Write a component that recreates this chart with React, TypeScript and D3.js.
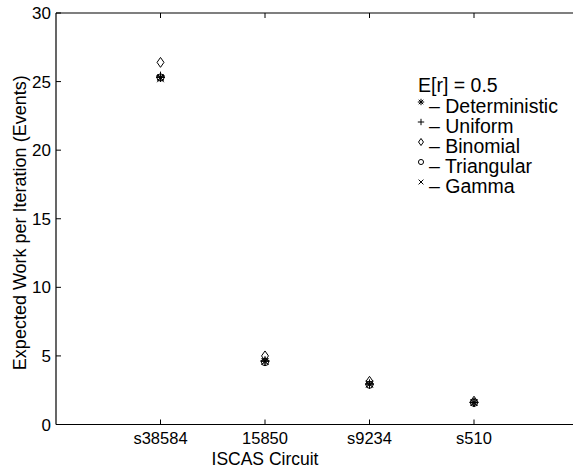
import React from "react";
import * as d3 from "d3";

// Circuits along the x axis
const circuits = ["s38584", "15850", "s9234", "s510"];

// Expected work per iteration for each distribution of r (E[r] = 0.5)
const deterministic = [25.3, 4.6, 2.95, 1.6];
const uniform = [25.4, 4.65, 2.95, 1.62];
const binomial = [26.4, 5.0, 3.15, 1.7];
const triangular = [25.3, 4.55, 2.9, 1.58];
const gamma = [25.2, 4.6, 2.95, 1.6];

const yTicks = [0, 5, 10, 15, 20, 25, 30];

const legendTitle = "E[r] = 0.5";
const seriesNames = ["Deterministic", "Uniform", "Binomial", "Triangular", "Gamma"];
const seriesValues = [deterministic, uniform, binomial, triangular, gamma];
const markerKinds = ["asterisk", "plus", "diamond", "circle", "cross"];

const W = 573;
const H = 468;
const FONT = "Arial, 'Liberation Sans', Helvetica, sans-serif";

function Marker({ kind, x, y, s }: { kind: string; x: number; y: number; s: number }) {
  const st = { stroke: "#000", strokeWidth: 1, fill: "none" } as const;
  if (kind === "asterisk") {
    const d = s * 0.7;
    return (
      <g {...st}>
        <line x1={x - s} y1={y} x2={x + s} y2={y} />
        <line x1={x} y1={y - s} x2={x} y2={y + s} />
        <line x1={x - d} y1={y - d} x2={x + d} y2={y + d} />
        <line x1={x - d} y1={y + d} x2={x + d} y2={y - d} />
      </g>
    );
  }
  if (kind === "plus") {
    return (
      <g {...st}>
        <line x1={x - s} y1={y} x2={x + s} y2={y} />
        <line x1={x} y1={y - s} x2={x} y2={y + s} />
      </g>
    );
  }
  if (kind === "cross") {
    const d = s * 0.75;
    return (
      <g {...st}>
        <line x1={x - d} y1={y - d} x2={x + d} y2={y + d} />
        <line x1={x - d} y1={y + d} x2={x + d} y2={y - d} />
      </g>
    );
  }
  if (kind === "diamond") {
    const r = s * 1.1;
    return <path d={`M${x},${y - r}L${x + r * 0.7},${y}L${x},${y + r}L${x - r * 0.7},${y}Z`} {...st} />;
  }
  return <circle cx={x} cy={y} r={s * 0.8} {...st} />;
}

export default function App() {
  const left = 56;
  const top = 13;
  const bottom = 424.5;
  const x = d3.scaleLinear().domain([0, 5]).range([left, left + 5 * 104.5]);
  const y = d3.scaleLinear().domain([0, 30]).range([bottom, top]);
  const right = x(5);

  return (
    <svg width={W} height={H} style={{ position: "absolute", left: 0, top: 0, background: "#fff" }} fontFamily={FONT}>
      <rect x={0} y={0} width={W} height={H} fill="#fff" />
      {/* axes box */}
      <line x1={left} y1={top} x2={right} y2={top} stroke="#000" strokeWidth={1.2} />
      <line x1={left} y1={bottom} x2={right} y2={bottom} stroke="#000" strokeWidth={1.2} />
      <line x1={left} y1={top} x2={left} y2={bottom} stroke="#000" strokeWidth={1.2} />

      {/* y ticks */}
      {yTicks.map((t) => (
        <g key={t}>
          <line x1={left} x2={left + 5} y1={y(t)} y2={y(t)} stroke="#000" />
          <text x={left - 5} y={y(t)} dy="0.36em" textAnchor="end" fontSize={17}>
            {t}
          </text>
        </g>
      ))}

      {/* x ticks */}
      {circuits.map((c, i) => (
        <g key={c}>
          <line x1={x(i + 1)} x2={x(i + 1)} y1={bottom} y2={bottom - 5} stroke="#000" />
          <line x1={x(i + 1)} x2={x(i + 1)} y1={top} y2={top + 5} stroke="#000" />
          <text x={x(i + 1)} y={444} textAnchor="middle" fontSize={16.5}>
            {c}
          </text>
        </g>
      ))}

      <text x={x(2)} y={465} textAnchor="middle" fontSize={17.5}>
        ISCAS Circuit
      </text>
      <text transform={`translate(26,${(top + bottom) / 2 + 4}) rotate(-90)`} textAnchor="middle" fontSize={18}>
        Expected Work per Iteration (Events)
      </text>

      {/* data markers */}
      {seriesValues.map((vals, si) =>
        vals.map((v, i) => (
          <Marker key={`${si}-${i}`} kind={markerKinds[si]} x={x(i + 1)} y={y(v)} s={4.5} />
        ))
      )}

      {/* legend */}
      <text x={418} y={92} fontSize={19.5}>
        {legendTitle}
      </text>
      {seriesNames.map((n, i) => {
        const cy = 106 + i * 20;
        return (
          <g key={n}>
            <Marker kind={markerKinds[i]} x={421} y={cy - 4} s={3.2} />
            <text x={429} y={cy + 7} fontSize={19.5}>
              {"\u2013 " + n}
            </text>
          </g>
        );
      })}
    </svg>
  );
}
